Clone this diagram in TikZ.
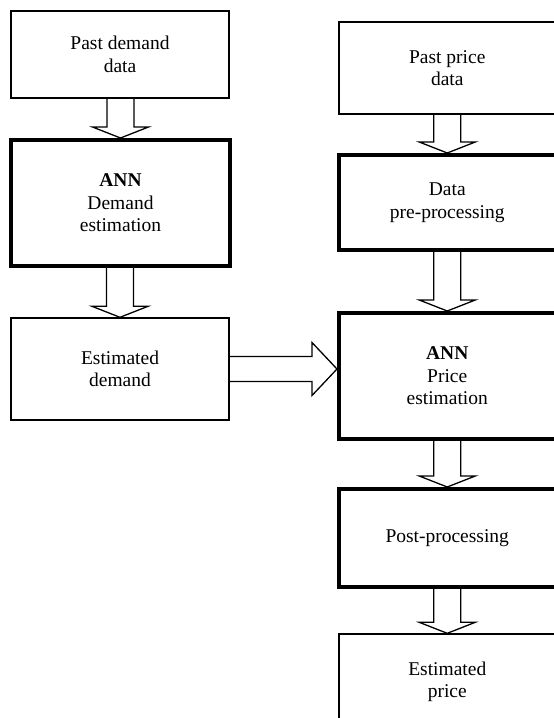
\documentclass[tikz,border=0pt]{standalone}
\usepackage{fontspec}
\setmainfont{Liberation Serif}
\usetikzlibrary{calc,backgrounds}

\tikzset{
  box/.style={draw, rectangle, line width=1.4pt, inner sep=0pt, align=center,
    font=\fontsize{19.5}{22.5}\selectfont},
  thickbox/.style={box, line width=4pt},
  blockarrow/.style={draw, fill=white, line width=1.3pt, line join=miter},
}

% hollow block arrow pointing down, from the bottom of #1 to the top of #2
\newcommand\vblockarrow[2]{%
  \draw[blockarrow] let \p1=(#1.south), \p2=(#2.north) in
    (\x2-13.5pt,\y1) -- (\x2-13.5pt,\y2+11pt) -- (\x2-28pt,\y2+11pt) -- (\x2,\y2)
    -- (\x2+28pt,\y2+11pt) -- (\x2+13.5pt,\y2+11pt) -- (\x2+13.5pt,\y1);
}
% hollow block arrow pointing right, from the side of #1 to the side of #2
\newcommand\hblockarrow[2]{%
  \draw[blockarrow] let \p1=(#1.east), \p2=(#2.west) in
    (\x1,\y1+12.5pt) -- (\x2-25pt,\y1+12.5pt) -- (\x2-25pt,\y1+26.5pt) -- (\x2,\y1)
    -- (\x2-25pt,\y1-26.5pt) -- (\x2-25pt,\y1-12.5pt) -- (\x1,\y1-12.5pt);
}

\begin{document}
\begin{tikzpicture}[x=1pt,y=-1pt]
  \useasboundingbox (0,0) rectangle (554,718);
  \clip (0,0) rectangle (554,718);

  % demand branch
  \node[box, minimum width=218pt, minimum height=87pt] (pastdem) at (120,54.5)
    {Past demand\\data};
  \node[thickbox, minimum width=219pt, minimum height=126pt] (anndem) at (120.5,203)
    {\textbf{ANN}\\Demand\\estimation};
  \node[box, minimum width=218pt, minimum height=102pt] (estdem) at (120,369)
    {Estimated\\demand};

  % price branch
  \node[box, minimum width=216.5pt, minimum height=92pt] (pastpr) at (447.25,68)
    {Past price\\data};
  \node[thickbox, minimum width=216.5pt, minimum height=95pt] (prepro) at (447.25,202.5)
    {Data\\pre-processing};
  \node[thickbox, minimum width=216.5pt, minimum height=126pt] (annpr) at (447.25,376)
    {\textbf{ANN}\\Price\\estimation};
  \node[thickbox, minimum width=216.5pt, minimum height=98pt] (postpro) at (447.25,538)
    {Post-processing};
  \node[box, minimum width=216.5pt, minimum height=96pt] (estpr) at (447.25,682)
    {Estimated\\price};

  \begin{pgfonlayer}{background}
    \vblockarrow{pastdem}{anndem}
    \vblockarrow{anndem}{estdem}
    \vblockarrow{pastpr}{prepro}
    \vblockarrow{prepro}{annpr}
    \vblockarrow{annpr}{postpro}
    \vblockarrow{postpro}{estpr}
    \hblockarrow{estdem}{annpr}
  \end{pgfonlayer}
\end{tikzpicture}
\end{document}
